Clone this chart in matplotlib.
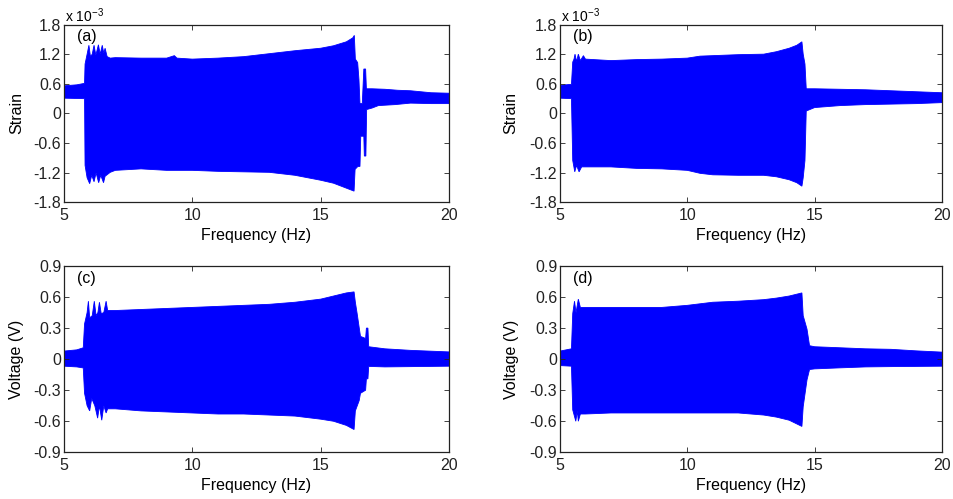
import matplotlib
matplotlib.use('Agg')
import matplotlib.pyplot as plt
import numpy as np

plt.rcParams['font.family'] = ['Liberation Sans', 'DejaVu Sans']
plt.rcParams['mathtext.fontset'] = 'custom'
plt.rcParams['mathtext.rm'] = 'Liberation Sans'
plt.rcParams['axes.unicode_minus'] = False

# envelopes (strain in units of 1e-3, voltage in V)
# (a) strain, first beam
fa_hi = [5.0, 5.5, 5.8, 5.82, 5.9, 5.97, 6.03, 6.1, 6.17, 6.24, 6.34, 6.41, 6.49, 6.55, 6.6, 6.68, 6.8,
         7.0, 8.0, 9.0, 9.3, 9.4, 10.0, 11.0, 12.0, 13.0, 14.0, 15.0, 15.5, 16.0, 16.25, 16.31,
         16.35, 16.44, 16.49, 16.53, 16.62, 16.68, 16.75, 16.78, 17.0, 17.5, 18.0, 18.5, 19.3, 20.0]
sa_hi = [0.56, 0.58, 0.61, 1.0, 1.2, 1.38, 1.15, 1.2, 1.38, 1.18, 1.39, 1.2, 1.38, 1.22, 1.32, 1.15, 1.12,
         1.13, 1.12, 1.12, 1.17, 1.12, 1.10, 1.12, 1.15, 1.21, 1.27, 1.32, 1.37, 1.45, 1.53, 1.58,
         1.1, 1.03, 0.69, 0.2, 0.2, 0.9, 0.9, 0.5, 0.5, 0.49, 0.47, 0.46, 0.42, 0.41]
fa_lo = [5.0, 5.8, 5.82, 5.9, 6.0, 6.08, 6.17, 6.25, 6.35, 6.43, 6.54, 6.6, 6.8, 7.0, 8.0, 9.0, 10.0,
         11.0, 12.0, 13.0, 14.0, 15.0, 15.5, 16.0, 16.3, 16.34, 16.45, 16.53, 16.56, 16.68, 16.7,
         16.76, 16.79, 17.0, 17.25, 17.9, 18.5, 19.3, 20.0]
sa_lo = [0.31, 0.30, -1.05, -1.3, -1.42, -1.25, -1.38, -1.2, -1.4, -1.25, -1.4, -1.27, -1.19, -1.15,
         -1.12, -1.15, -1.15, -1.17, -1.18, -1.19, -1.25, -1.35, -1.41, -1.51, -1.57, -1.13, -1.07,
         -1.07, -0.46, -0.46, -0.86, -0.86, 0.08, 0.11, 0.16, 0.18, 0.21, 0.2, 0.2]

# (b) strain, second beam
fb_hi = [5.0, 5.45, 5.5, 5.55, 5.59, 5.65, 5.72, 5.8, 5.92, 6.0, 7.0, 8.0, 9.0, 10.0, 10.5, 11.0,
         12.0, 13.0, 13.5, 14.0, 14.3, 14.5, 14.55, 14.62, 14.67, 15.0, 16.0, 17.0, 18.0, 19.0, 20.0]
sb_hi = [0.57, 0.59, 1.04, 1.1, 1.2, 1.05, 1.2, 1.07, 1.17, 1.1, 1.07, 1.09, 1.1, 1.12, 1.16, 1.17,
         1.19, 1.2, 1.25, 1.32, 1.38, 1.45, 1.2, 1.0, 0.5, 0.5, 0.49, 0.48, 0.46, 0.44, 0.42]
fb_lo = [5.0, 5.45, 5.5, 5.58, 5.65, 5.75, 5.85, 6.0, 7.0, 8.0, 9.0, 10.0, 10.5, 11.0, 12.0, 13.0,
         13.5, 14.0, 14.3, 14.5, 14.55, 14.62, 14.67, 15.0, 16.0, 17.0, 18.0, 19.0, 20.0]
sb_lo = [0.31, 0.30, -0.95, -1.18, -1.05, -1.18, -1.08, -1.08, -1.08, -1.11, -1.12, -1.15, -1.21,
         -1.24, -1.25, -1.25, -1.28, -1.34, -1.4, -1.47, -1.3, -0.95, 0.05, 0.12, 0.16, 0.18, 0.19,
         0.2, 0.22]

# (c) voltage, first beam
fc_hi = [5.0, 5.5, 5.75, 5.8, 5.9, 5.95, 6.0, 6.1, 6.18, 6.25, 6.32, 6.38, 6.45, 6.55, 6.64, 6.7,
         7.0, 8.0, 9.0, 10.0, 11.0, 12.0, 13.0, 14.0, 15.0, 15.5, 16.0, 16.3, 16.35, 16.42, 16.55,
         16.75, 16.78, 16.84, 16.87, 17.5, 18.5, 20.0]
vc_hi = [0.078, 0.09, 0.11, 0.34, 0.45, 0.56, 0.4, 0.42, 0.56, 0.42, 0.45, 0.55, 0.44, 0.45, 0.56, 0.47,
         0.47, 0.48, 0.49, 0.5, 0.51, 0.52, 0.53, 0.55, 0.58, 0.61, 0.64, 0.65, 0.55, 0.44, 0.22,
         0.2, 0.3, 0.3, 0.12, 0.10, 0.085, 0.07]
fc_lo = [5.0, 5.5, 5.75, 5.8, 5.9, 6.0, 6.08, 6.2, 6.31, 6.38, 6.47, 6.55, 6.64, 6.7, 7.0, 8.0, 9.0,
         10.0, 11.0, 12.0, 13.0, 14.0, 15.0, 15.5, 16.0, 16.3, 16.35, 16.5, 16.55, 16.75, 16.78,
         16.84, 16.87, 17.5, 20.0]
vc_lo = [-0.068, -0.075, -0.085, -0.33, -0.45, -0.5, -0.38, -0.45, -0.57, -0.45, -0.59, -0.45, -0.52,
         -0.48, -0.48, -0.5, -0.51, -0.52, -0.53, -0.53, -0.54, -0.55, -0.58, -0.6, -0.64, -0.68,
         -0.5, -0.4, -0.33, -0.3, -0.19, -0.19, -0.07, -0.075, -0.068]

# (d) voltage, second beam
fd_hi = [5.0, 5.45, 5.5, 5.57, 5.63, 5.72, 5.8, 6.0, 7.0, 8.0, 9.0, 10.0, 11.0, 12.0, 13.0, 13.5,
         14.0, 14.5, 14.55, 14.7, 14.8, 15.0, 16.0, 17.0, 18.0, 19.0, 20.0]
vd_hi = [0.078, 0.1, 0.44, 0.56, 0.45, 0.58, 0.5, 0.5, 0.5, 0.5, 0.5, 0.52, 0.55, 0.56, 0.575, 0.59,
         0.61, 0.64, 0.42, 0.29, 0.13, 0.12, 0.11, 0.10, 0.095, 0.08, 0.068]
fd_lo = [5.0, 5.45, 5.5, 5.62, 5.68, 5.72, 5.8, 6.0, 7.0, 8.0, 9.0, 10.0, 11.0, 12.0, 13.0, 13.5,
         14.0, 14.5, 14.55, 14.7, 14.8, 15.0, 16.0, 17.0, 18.0, 20.0]
vd_lo = [-0.062, -0.068, -0.49, -0.6, -0.5, -0.6, -0.53, -0.53, -0.52, -0.52, -0.52, -0.52, -0.52,
         -0.52, -0.54, -0.56, -0.59, -0.65, -0.46, -0.2, -0.1, -0.094, -0.084, -0.075, -0.072, -0.068]

strain_ticks = [-1.8, -1.2, -0.6, 0, 0.6, 1.2, 1.8]
volt_ticks = [-0.9, -0.6, -0.3, 0, 0.3, 0.6, 0.9]
freq_ticks = [5, 10, 15, 20]

FS = 11.5


def fmt(v):
    return '0' if v == 0 else '%g' % v


def draw(ax, f_hi, y_hi, f_lo, y_lo, yticks, ylabel, tag, ylab_x, xlab_y):
    xs = np.r_[f_hi, f_lo[::-1]]
    ys = np.r_[y_hi, y_lo[::-1]]
    ax.fill(xs, ys, color='#0000ff', lw=0.6)
    ax.set_xlim(5, 20)
    ax.set_ylim(yticks[0], yticks[-1])
    ax.set_xticks(freq_ticks)
    ax.set_xticklabels([str(t) for t in freq_ticks])
    ax.set_yticks(yticks)
    ax.set_yticklabels([fmt(t) for t in yticks])
    ax.tick_params(direction='in', length=3.5, width=0.6, top=True, right=True,
                   labelsize=FS, colors='#222222')
    ax.tick_params(axis='y', pad=2)
    ax.tick_params(axis='x', pad=4)
    for s in ax.spines.values():
        s.set_linewidth(0.9)
        s.set_color('#222222')
    ax.set_xlabel('Frequency (Hz)', fontsize=FS)
    ax.set_ylabel(ylabel, fontsize=FS)
    ax.xaxis.set_label_coords(0.5, xlab_y)
    ax.yaxis.set_label_coords(ylab_x, 0.5)
    ax.text(0.035, 0.975, tag, transform=ax.transAxes, fontsize=FS, va='top', ha='left')


fig = plt.figure(figsize=(9.54, 4.99), dpi=100)

ax_a = fig.add_axes([0.0671, 0.5942, 0.4036, 0.3567])
ax_b = fig.add_axes([0.5870, 0.5942, 0.4004, 0.3567])
ax_c = fig.add_axes([0.0671, 0.0936, 0.4036, 0.3733])
ax_d = fig.add_axes([0.5870, 0.0936, 0.4004, 0.3733])

draw(ax_a, fa_hi, sa_hi, fa_lo, sa_lo, strain_ticks, 'Strain', '(a)', -0.103, -0.143)
draw(ax_b, fb_hi, sb_hi, fb_lo, sb_lo, strain_ticks, 'Strain', '(b)', -0.109, -0.143)
draw(ax_c, fc_hi, vc_hi, fc_lo, vc_lo, volt_ticks, 'Voltage (V)', '(c)', -0.104, -0.138)
draw(ax_d, fd_hi, vd_hi, fd_lo, vd_lo, volt_ticks, 'Voltage (V)', '(d)', -0.107, -0.138)

for ax in (ax_a, ax_b):
    ax.text(0.003, 1.0, r'x 10$^{-3}$', transform=ax.transAxes, fontsize=10,
            va='bottom', ha='left')

fig.savefig('out.png', dpi=100)
